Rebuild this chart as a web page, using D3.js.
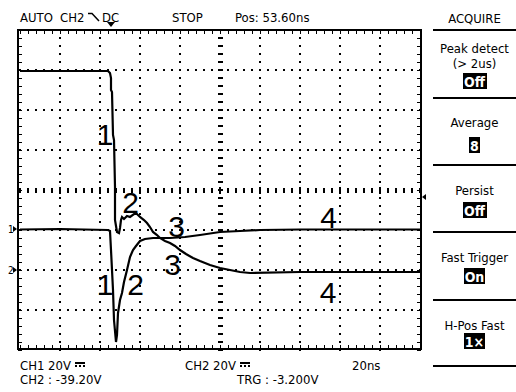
<!DOCTYPE html>
<html><head><meta charset="utf-8">
<script src="https://cdn.jsdelivr.net/npm/d3@7"></script>
<style>
html,body{margin:0;padding:0;background:#fff;}
svg{display:block;}
text{font-family:"Liberation Sans Narrow","DejaVu Sans Condensed","Liberation Sans",sans-serif;fill:#000;}
</style></head>
<body>
<svg id="c" width="516" height="392" shape-rendering="crispEdges"></svg>
<script>
// ---- data (time in ns, voltage in V) ----
const ch2Time = [0,44,45,45.5,45.5,46,46.5,47,47.5,47.5,48,48.5,49.5,50,50.5,51,52,53.5,55,57,58.5,60,62,63.5,65,66.5,68.5,70,72.5,75,77.5,80,83,86.5,90,95,100,105,110,115,140,165,200];
const ch2Volt = [99.5,99.5,98.5,96,90,89,67.5,65,41.5,25,22,19,18.5,21,25,26.5,25.5,27,26.5,28,28,26.5,25,23.5,21.5,19,17.5,16,14.5,13.5,12,10,8,6,4.5,2.5,1,0,-1,-1.5,-1,-1,-1];
const ch1Time = [0,20,44,45,45.5,46.5,47,48,48.5,49,50,51,52,53.5,55,56.5,58,60,62.5,66.5,75,82.5,90,100,110,120,140,200];
const ch1Volt = [-0.25,0,-0.5,-1,-10.5,-30.5,-45.5,-56.5,-53,-42,-35.5,-32,-26.5,-20.5,-14,-10.5,-8.5,-6,-5,-4.5,-4.5,-4,-3,-1.5,-1,-0.5,-0.25,-0.25];
const labelText = ["1","2","3","4","1","2","3","4"];
const labelTime = [42.5,55.25,78.25,154.25,42.5,57.75,76.25,154];
const labelVolt = [62.5,28.5,16.5,21,-12.5,-12.5,-2.5,-16.5]; // on CH2 scale
const headerTexts = ["AUTO","CH2","DC","STOP","Pos: 53.60ns"];
const menuTitle = "ACQUIRE";
const menuLabels = [["Peak detect","(> 2us)"],["Average"],["Persist"],["Fast Trigger"],["H-Pos Fast"]];
const menuValues = ["Off","8","Off","On","1×"];
const footerTexts = ["CH1  20V","CH2  20V","20ns","CH2 : -39.20V","TRG : -3.200V"];
const voltsPerDiv = 20, nsPerDiv = 20;

const svg = d3.select("#c");
const L=20,R=420,T=30,B=350;
const x = d3.scaleLinear().domain([0,10*nsPerDiv]).range([L,R]);
const yDiv = d3.scaleLinear().domain([-4,4]).range([B,T]);
// channel ground levels in divisions from centre
const ch1Gnd = -0.975, ch2Gnd = -2;
const y1 = v => yDiv(ch1Gnd + v/voltsPerDiv);
const y2 = v => yDiv(ch2Gnd + v/voltsPerDiv);

const g = svg.append("g");
// frame
g.append("rect").attr("x",18).attr("y",T).attr("width",R-18+1).attr("height",B-1-T).attr("fill","none").attr("stroke","#000").attr("stroke-width",1.5);
// border ticks
const step=8;
const xs = d3.range(L,R+0.1,step), ys = d3.range(T,B+0.1,step);
xs.forEach(px=>{
  g.append("rect").attr("x",px-0.5).attr("y",T).attr("width",1.2).attr("height",4).attr("fill","#000");
  g.append("rect").attr("x",px-0.5).attr("y",B-5).attr("width",1.2).attr("height",4).attr("fill","#000");
});
ys.forEach(py=>{
  g.append("rect").attr("x",18).attr("y",py-0.5).attr("width",4).attr("height",1.2).attr("fill","#000");
  g.append("rect").attr("x",R-3).attr("y",py-0.5).attr("width",4).attr("height",1.2).attr("fill","#000");
});
// grid dots
const vLines = d3.range(1,10).map(i=>x(i*nsPerDiv));
const hLines = d3.range(-3,4).map(j=>yDiv(j));
const dot = (px,py)=>g.append("rect").attr("x",Math.round(px)-1).attr("y",Math.round(py)-1).attr("width",2).attr("height",2).attr("fill","#000");
vLines.forEach((px,i)=>{
  if(i===4){ // centre vertical
    ys.forEach(py=>g.append("rect").attr("x",px-2).attr("y",py-1).attr("width",5).attr("height",2).attr("fill","#000"));
  } else {
    ys.forEach(py=>dot(px,py));
  }
});
hLines.forEach((py,j)=>{
  if(j===3){
    xs.forEach(px=>{
      const big = vLines.some(v=>Math.abs(v-px)<0.5);
      const h = big?7:5;
      g.append("rect").attr("x",px-1).attr("y",py-h/2).attr("width",2).attr("height",h).attr("fill","#000");
    });
  } else {
    xs.forEach(px=>dot(px,py));
  }
});

// traces
const line1 = d3.line().x(d=>x(d[0])).y(d=>y1(d[1]));
const line2 = d3.line().x(d=>x(d[0])).y(d=>y2(d[1]));
g.append("path").attr("d",line1(d3.zip(ch1Time,ch1Volt))).attr("fill","none").attr("stroke","#000").attr("stroke-width",2.2).attr("shape-rendering","auto");
g.append("path").attr("d",line2(d3.zip(ch2Time,ch2Volt))).attr("fill","none").attr("stroke","#000").attr("stroke-width",2.2).attr("shape-rendering","auto");

// labels
labelText.forEach((t,i)=>{
  g.append("text").attr("x",x(labelTime[i])).attr("y",y2(labelVolt[i])).attr("text-anchor","middle")
   .style("font-family","'Liberation Sans',Arial,sans-serif").style("font-size","30px").text(t);
});

// channel markers
[["1",y1(0)],["2",y2(0)]].forEach(([t,py])=>{
  g.append("text").attr("x",8).attr("y",py+4).style("font-size","10px").text(t);
  g.append("path").attr("d",`M13,${py-3}L17,${py}L13,${py+3}Z`).attr("fill","#000").attr("shape-rendering","auto");
});
// trigger level marker on right
g.append("path").attr("d",`M426,${194}L422,${197}L426,${200}Z`).attr("fill","#000").attr("shape-rendering","auto");
// trigger position marker
g.append("path").attr("d","M107,22L115,22L111,27Z").attr("fill","#000").attr("shape-rendering","auto");

// header
const fs="13px";
const hx=[20,60,102,172,235];
headerTexts.forEach((t,i)=>svg.append("text").attr("x",hx[i]).attr("y",22).style("font-size",fs).text(t));
svg.append("path").attr("d","M88,13.5H92L99,21").attr("fill","none").attr("stroke","#000").attr("stroke-width",1.5).attr("shape-rendering","auto");

// menu
const mx=474.5;
svg.append("text").attr("x",mx).attr("y",23).attr("text-anchor","middle").style("font-size",fs).text(menuTitle);
const seps=[30,98,165,232,300,366];
seps.forEach(py=>svg.append("rect").attr("x",433).attr("y",py-1).attr("width",83).attr("height",2).attr("fill","#000"));
const labelY=[[53,68],[127],[195],[262],[330]];
const valY=[87,151,216,282,347];
menuLabels.forEach((ls,i)=>{
  ls.forEach((t,k)=>svg.append("text").attr("x",mx).attr("y",labelY[i][k]).attr("text-anchor","middle").style("font-size",fs).text(t));
  const vt = svg.append("text").attr("x",mx).attr("y",valY[i]).attr("text-anchor","middle").style("font-size","14px").style("font-weight","bold").text(menuValues[i]);
  const bb = vt.node().getBBox();
  svg.insert("rect","text:last-child").attr("x",bb.x-1).attr("y",valY[i]-14).attr("width",bb.width+2).attr("height",16).attr("fill","#000");
  vt.style("fill","#fff").raise();
});

// footer
const fx=[20,185,352,20,237], fy=[370,370,370,384,384];
footerTexts.forEach((t,i)=>svg.append("text").attr("x",fx[i]).attr("y",fy[i]).style("font-size",fs).text(t));
// DC coupling symbols after the volts/div texts
[0,1].forEach(i=>{
  const bb = svg.selectAll("text").filter(function(){return d3.select(this).text()===footerTexts[i];}).node().getBBox();
  const sx = bb.x+bb.width+4;
  svg.append("rect").attr("x",sx).attr("y",362).attr("width",10).attr("height",1.5).attr("fill","#000");
  [0,4,8].forEach(o=>svg.append("rect").attr("x",sx+o).attr("y",365).attr("width",2).attr("height",1.5).attr("fill","#000"));
});
</script>
</body></html>
